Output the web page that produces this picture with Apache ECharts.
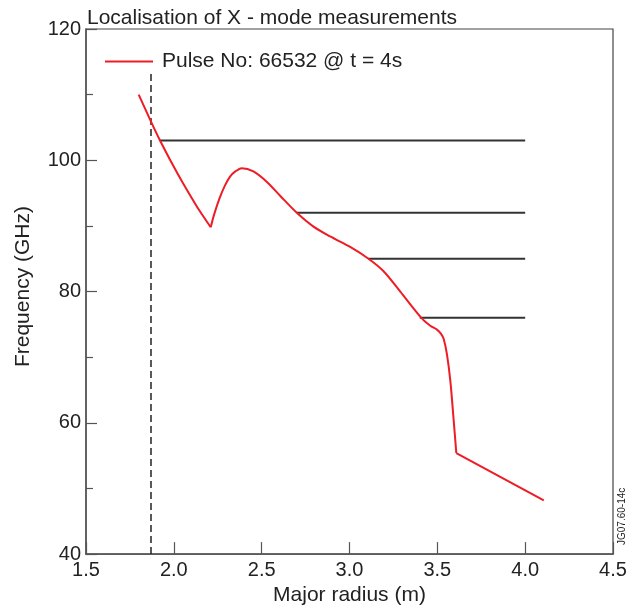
<!DOCTYPE html>
<html>
<head>
<meta charset="utf-8">
<script src="https://cdn.jsdelivr.net/npm/echarts@6/dist/echarts.min.js"></script>
<style>
  html, body { margin: 0; padding: 0; background: #fff; }
  #chart { width: 640px; height: 611px; }
</style>
</head>
<body>
<div id="chart"></div>
<script>
// Cut-off frequency profile vs major radius, split at its two sharp corners
const profileInner = [
  [1.80, 110.0], [1.87, 105.9], [1.92, 103.1], [2.00, 99.0],
  [2.05, 96.6], [2.13, 93.0], [2.21, 89.8]
];
const profileMiddle = [
  [2.21, 89.8], [2.23, 91.8], [2.26, 94.2], [2.29, 96.1], [2.32, 97.5],
  [2.35, 98.3], [2.387, 98.8], [2.453, 98.3], [2.53, 96.7], [2.605, 94.6],
  [2.70, 92.0], [2.795, 89.9], [2.89, 88.4], [3.004, 86.8], [3.108, 85.0],
  [3.194, 83.1], [3.289, 80.0], [3.409, 76.0], [3.46, 74.8], [3.498, 74.2],
  [3.52, 73.6], [3.536, 72.8], [3.555, 70.4], [3.574, 66.4], [3.593, 60.4],
  [3.608, 55.4]
];
const profileOuter = [[3.608, 55.4], [4.106, 48.2]];

// Measurement channels: frequency and radius where each one is localised
const channelFreqs = [103, 92, 85, 76];
const channelStarts = [1.92, 2.70, 3.107, 3.40];
const channelEnd = 4.0;

// Dashed marker position
const markerRadius = 1.87;
const markerTop = 113.2;

const xTicks = [1.5, 2.0, 2.5, 3.0, 3.5, 4.0, 4.5];
const yTicks = [40, 60, 80, 100, 120];

const seriesName = 'Pulse No: 66532 @ t = 4s';
const red = '#ee1c25';
const ink = '#222';
const font = 'Liberation Sans, Arial, Helvetica, sans-serif';

const chart = echarts.init(document.getElementById('chart'), null, { renderer: 'canvas' });

const series = [];
const profileStyle = { color: red, width: 2 };
[profileInner, profileMiddle, profileOuter].forEach((seg, i) => {
  series.push({
    name: seriesName,
    type: 'line',
    data: seg,
    showSymbol: false,
    symbol: 'none',
    smooth: i === 2 ? false : 0.3,
    lineStyle: profileStyle,
    itemStyle: { color: red },
    z: 5,
    silent: true
  });
});
channelFreqs.forEach((f, i) => {
  series.push({
    type: 'line',
    data: [[channelStarts[i], f], [channelEnd, f]],
    symbol: 'none',
    lineStyle: { color: '#333', width: 2 },
    z: 3,
    silent: true
  });
});
series.push({
  type: 'line',
  data: [[markerRadius, yTicks[0]], [markerRadius, markerTop]],
  symbol: 'none',
  lineStyle: { color: '#222', width: 1.5, type: [7, 4] },
  z: 4,
  silent: true
});

chart.setOption({
  animation: false,
  backgroundColor: '#fff',
  textStyle: { fontFamily: font, color: ink },
  title: {
    text: 'Localisation of X - mode measurements',
    left: 82,
    top: 3,
    textStyle: { fontFamily: font, fontSize: 21, fontWeight: 'normal', color: ink }
  },
  legend: {
    data: [seriesName],
    left: 100,
    top: 46,
    itemWidth: 48,
    itemHeight: 14,
    icon: 'path://M0,6 L48,6 L48,8 L0,8 Z',
    itemStyle: { color: red },
    textStyle: { fontFamily: font, fontSize: 21, color: ink, padding: [0, 0, 0, 4] }
  },
  grid: {
    left: 86, right: 27, top: 29, bottom: 53,
    show: true, borderColor: '#444', borderWidth: 1.2
  },
  xAxis: {
    type: 'value',
    min: xTicks[0],
    max: xTicks[xTicks.length - 1],
    interval: 0.5,
    name: 'Major radius (m)',
    nameLocation: 'middle',
    nameGap: 30,
    nameTextStyle: { fontFamily: font, fontSize: 21, color: ink },
    axisLine: { show: true, lineStyle: { color: '#555', width: 1.5 } },
    axisTick: { show: true, inside: true, length: 12, lineStyle: { color: '#555', width: 1.2 } },
    axisLabel: {
      margin: 6, fontFamily: font, fontSize: 20, color: ink,
      formatter: v => v.toFixed(1)
    },
    splitLine: { show: false }
  },
  yAxis: {
    type: 'value',
    min: yTicks[0],
    max: yTicks[yTicks.length - 1],
    interval: 20,
    name: 'Frequency (GHz)',
    nameLocation: 'middle',
    nameGap: 52,
    nameTextStyle: { fontFamily: font, fontSize: 21, color: ink, padding: [0, 0, 0, 10] },
    axisLine: { show: true, lineStyle: { color: '#555', width: 1.5 } },
    axisTick: { show: true, inside: true, length: 11, lineStyle: { color: '#555', width: 1.2 } },
    minorTick: { show: true, splitNumber: 2, length: 7, lineStyle: { color: '#555', width: 1.2 } },
    axisLabel: { margin: 5, fontFamily: font, fontSize: 20, color: ink },
    splitLine: { show: false }
  },
  graphic: [{
    type: 'text',
    x: 617,
    y: 545,
    rotation: Math.PI / 2,
    style: { text: 'JG07.60-14c', fontFamily: font, fontSize: 10, fill: ink, textVerticalAlign: 'top' }
  }],
  series: series
});
</script>
</body>
</html>
